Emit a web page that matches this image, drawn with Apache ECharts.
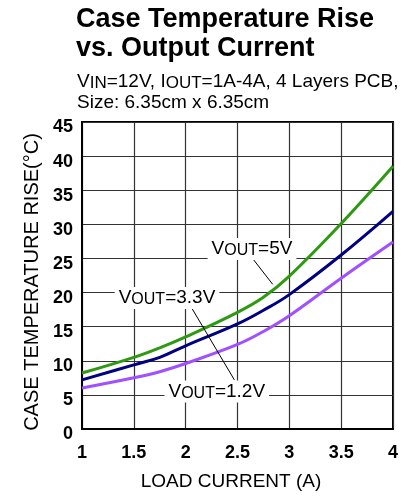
<!DOCTYPE html>
<html>
<head>
<meta charset="utf-8">
<script src="https://cdn.jsdelivr.net/npm/echarts@6/dist/echarts.min.js"></script>
<style>
  html, body { margin: 0; padding: 0; background: #fff; }
  #chart { width: 417px; height: 496px; }
</style>
</head>
<body>
<div id="chart"></div>
<script>
// 负载电流 (A)
var loadCurrent = [1, 1.5, 1.75, 2, 2.5, 2.75, 3, 3.5, 4];
// 温升 (°C)
var rise5V = [8.2, 10.5, 11.9, 13.5, 17.1, 19.3, 22.4, 30.1, 38.5];
var rise3V3 = [7.2, 9.4, 10.5, 12.2, 15.4, 17.4, 19.7, 25.5, 31.9];
var rise1V2 = [6.0, 7.5, 8.4, 9.6, 12.4, 14.3, 16.6, 22.1, 27.4];
var xTicks = ['1', '1.5', '2', '2.5', '3', '3.5', '4'];

var FONT = '"Liberation Sans", Arial, sans-serif';

function pairs(vals) {
	return loadCurrent.map(function (x, i) { return [x, vals[i]]; });
}

// 标注文字
var noteRich = {
	n: { fontSize: 19, lineHeight: 20, fontFamily: FONT, color: '#000' },
	s: { fontSize: 16, lineHeight: 14, verticalAlign: 'bottom', fontFamily: FONT, color: '#000' }
};
function note(coord, v) {
	return {
		coord: coord,
		symbol: 'rect',
		symbolSize: 0,
		itemStyle: { color: 'rgba(0,0,0,0)' },
		label: {
			show: true,
			position: 'inside',
			formatter: '{n|V}{s|OUT}{n|=' + v + '}',
			backgroundColor: '#fff',
			padding: [1, 4, 1, 4],
			rich: noteRich
		}
	};
}
function leader(a, b) {
	return [{ coord: a }, { coord: b }];
}

var myChart = echarts.init(document.getElementById('chart'));
var option = {
	backgroundColor: '#fff',
	animation: false,
	title: [{
		text: 'Case Temperature Rise\nvs. Output Current',
		left: 76,
		top: 5,
		padding: 0,
		textStyle: { fontSize: 27, fontWeight: 'bold', lineHeight: 29, fontFamily: FONT, color: '#000' }
	}, {
		text: '{n|V}{s|IN}{n|=12V, I}{s|OUT}{n|=1A-4A, 4 Layers PCB,}\n{n|Size: 6.35cm x 6.35cm}',
		left: 77,
		top: 71,
		padding: 0,
		textStyle: {
			fontSize: 19,
			fontWeight: 'normal',
			fontFamily: FONT,
			color: '#000',
			rich: {
				n: { fontSize: 19, lineHeight: 21, fontFamily: FONT, color: '#000' },
				s: { fontSize: 17, lineHeight: 14, verticalAlign: 'bottom', fontFamily: FONT, color: '#000' }
			}
		}
	}],
	grid: {
		left: 82, right: 24, top: 122, bottom: 63,
		show: true, borderColor: '#000', borderWidth: 2
	},
	xAxis: {
		type: 'value',
		min: 1, max: 4, interval: 0.5,
		name: 'LOAD CURRENT (A)',
		nameLocation: 'middle',
		nameGap: 43,
		nameTextStyle: { fontSize: 19, fontFamily: FONT, color: '#000', padding: [0, 13, 0, 0] },
		axisLine: { lineStyle: { color: '#000', width: 2 } },
		axisTick: { show: false },
		axisLabel: {
			margin: 15,
			fontSize: 18, fontWeight: 'bold', fontFamily: FONT, color: '#000',
			formatter: function (v) {
				var s = String(v);
				return xTicks.indexOf(s) >= 0 ? s : '';
			}
		},
		splitLine: { show: true, lineStyle: { color: '#333', width: 1.2 } }
	},
	yAxis: {
		type: 'value',
		min: 0, max: 45, interval: 5,
		name: 'CASE TEMPERATURE RISE(°C)',
		nameLocation: 'middle',
		nameRotate: 90,
		nameGap: 40,
		nameTextStyle: { fontSize: 20, fontFamily: FONT, color: '#000', padding: [0, 13, 0, 0] },
		axisLine: { show: true, lineStyle: { color: '#000', width: 2 } },
		axisTick: { show: false },
		axisLabel: {
			margin: 9,
			verticalAlign: 'top',
			lineHeight: 11,
			fontSize: 18, fontWeight: 'bold', fontFamily: FONT, color: '#000'
		},
		splitLine: { show: true, lineStyle: { color: '#333', width: 1.2 } }
	},
	series: [{
		name: 'VOUT=5V',
		type: 'line',
		data: pairs(rise5V),
		smooth: 0.4,
		showSymbol: false,
		lineStyle: { color: '#2e9a12', width: 3 },
		z: 3
	}, {
		name: 'VOUT=3.3V',
		type: 'line',
		data: pairs(rise3V3),
		smooth: 0.4,
		showSymbol: false,
		lineStyle: { color: '#000080', width: 3 },
		z: 3
	}, {
		name: 'VOUT=1.2V',
		type: 'line',
		data: pairs(rise1V2),
		smooth: 0.4,
		showSymbol: false,
		lineStyle: { color: '#a050ff', width: 3 },
		z: 3,
		markLine: {
			silent: true,
			symbol: ['none', 'none'],
			label: { show: false },
			lineStyle: { color: '#000', width: 1, type: 'solid' },
			data: [
				leader([2.64, 25.1], [2.84, 21.2]),
				leader([2.04, 18.2], [2.47, 7.2])
			]
		},
		markPoint: {
			silent: true,
			data: [
				note([2.64, 26.4], '5V'),
				note([1.82, 19.2], '3.3V'),
				note([2.30, 5.5], '1.2V')
			]
		}
	}]
};
myChart.setOption(option);
</script>
</body>
</html>
